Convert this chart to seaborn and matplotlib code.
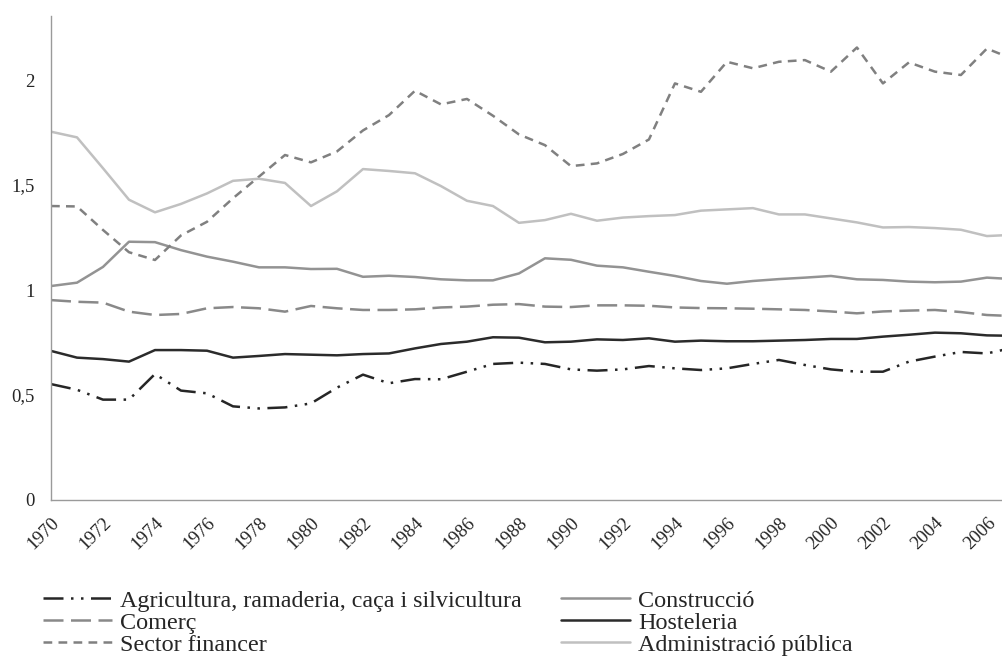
import matplotlib
matplotlib.use("Agg")
import matplotlib.pyplot as plt
import numpy as np
import pandas as pd
import seaborn as sns

# ---- data ----
years = list(range(1970, 2008))

agricultura = [0.552, 0.525, 0.478, 0.478, 0.600, 0.521, 0.508, 0.446, 0.436, 0.441,
               0.460, 0.535, 0.597, 0.556, 0.576, 0.575, 0.611, 0.648, 0.654, 0.648,
               0.622, 0.616, 0.622, 0.638, 0.627, 0.619, 0.627, 0.648, 0.667, 0.643,
               0.622, 0.611, 0.611, 0.659, 0.683, 0.705, 0.698, 0.725]
construccio = [1.019, 1.035, 1.110, 1.230, 1.228, 1.190, 1.159, 1.135, 1.108, 1.108,
               1.100, 1.101, 1.063, 1.068, 1.062, 1.051, 1.046, 1.046, 1.079, 1.151,
               1.144, 1.116, 1.108, 1.087, 1.067, 1.043, 1.030, 1.043, 1.052, 1.059,
               1.067, 1.051, 1.048, 1.040, 1.037, 1.040, 1.059, 1.052]
comerc = [0.952, 0.944, 0.940, 0.897, 0.881, 0.886, 0.913, 0.919, 0.913, 0.897,
          0.924, 0.913, 0.905, 0.905, 0.908, 0.917, 0.921, 0.930, 0.933, 0.921,
          0.919, 0.927, 0.927, 0.925, 0.917, 0.914, 0.913, 0.911, 0.908, 0.905,
          0.898, 0.889, 0.898, 0.902, 0.905, 0.895, 0.881, 0.876]
hosteleria = [0.710, 0.678, 0.671, 0.659, 0.714, 0.714, 0.711, 0.678, 0.686, 0.695,
              0.692, 0.689, 0.695, 0.698, 0.722, 0.743, 0.754, 0.775, 0.773, 0.751,
              0.754, 0.765, 0.762, 0.770, 0.754, 0.759, 0.756, 0.756, 0.759, 0.762,
              0.767, 0.767, 0.778, 0.787, 0.797, 0.794, 0.784, 0.782]
financer = [1.400, 1.398, 1.286, 1.180, 1.143, 1.260, 1.325, 1.437, 1.540, 1.643,
            1.608, 1.660, 1.760, 1.833, 1.949, 1.884, 1.910, 1.830, 1.741, 1.690,
            1.590, 1.603, 1.648, 1.717, 1.984, 1.944, 2.087, 2.056, 2.087, 2.095,
            2.040, 2.155, 1.984, 2.084, 2.040, 2.024, 2.150, 2.100]
administracio = [1.754, 1.727, 1.580, 1.430, 1.370, 1.410, 1.460, 1.520, 1.530, 1.510,
                 1.400, 1.470, 1.576, 1.567, 1.556, 1.495, 1.425, 1.400, 1.320, 1.333,
                 1.363, 1.330, 1.345, 1.352, 1.357, 1.378, 1.384, 1.390, 1.360, 1.360,
                 1.341, 1.322, 1.298, 1.300, 1.295, 1.287, 1.257, 1.263]

sectors = ["Agricultura, ramaderia, caça i silvicultura", "Construcció", "Comerç",
           "Hosteleria", "Sector financer", "Administració pública"]
series = [agricultura, construccio, comerc, hosteleria, financer, administracio]

ytick_vals = [0, 0.5, 1, 1.5, 2]
ytick_labels = ["0", "0,5", "1", "1,5", "2"]
xtick_years = list(range(1970, 2007, 2))

# long format for seaborn
df = pd.concat([pd.DataFrame({"any": years, "valor": s, "sector": name})
                for name, s in zip(sectors, series)], ignore_index=True)

colors = {sectors[0]: "#262626", sectors[1]: "#939393", sectors[2]: "#898989",
          sectors[3]: "#2b2b2b", sectors[4]: "#808080", sectors[5]: "#c0c0c0"}
dashes = {sectors[0]: (8, 3, 1, 3, 1, 3), sectors[1]: "", sectors[2]: (8, 3),
          sectors[3]: "", sectors[4]: (3.5, 2.5), sectors[5]: ""}

sns.set_style("white")
plt.rcParams["font.family"] = ["Liberation Serif", "DejaVu Serif"]

fig = plt.figure(figsize=(10.02, 6.58), dpi=100)
ax = fig.add_axes([51 / 1002, 1 - 500 / 658, (1002 - 51) / 1002, (500 - 16) / 658])

sns.lineplot(data=df, x="any", y="valor", hue="sector", style="sector",
             palette=colors, dashes=dashes, hue_order=sectors, style_order=sectors,
             linewidth=1.8, ax=ax)

ax.set_xlim(1970, 2006.58)
ax.set_ylim(0, 2.305)
ax.set_xlabel("")
ax.set_ylabel("")

ax.set_yticks(ytick_vals)
ax.set_yticklabels(ytick_labels, fontsize=13.5)
ax.set_xticks(xtick_years)
ax.set_xticklabels([str(y) for y in xtick_years], fontsize=13.5, rotation=45,
                   ha="right", va="top", rotation_mode="anchor")
ax.tick_params(axis="y", length=0, pad=12)
ax.tick_params(axis="x", length=0, pad=10)

for side in ["top", "right"]:
    ax.spines[side].set_visible(False)
for side in ["left", "bottom"]:
    ax.spines[side].set_color("#9a9a9a")
    ax.spines[side].set_linewidth(1.0)

# legend below, 2 columns (column-major order)
handles, labels = ax.get_legend_handles_labels()
ax.get_legend().remove()
lookup = dict(zip(labels, handles))
order = [sectors[0], sectors[2], sectors[4], sectors[1], sectors[3], sectors[5]]
fig.legend([lookup[k] for k in order], order, ncol=2, loc="upper left",
           bbox_to_anchor=(43 / 1002, 1 - 590 / 658), frameon=False,
           fontsize=17.4, handlelength=2.85, handletextpad=0.35,
           columnspacing=1.6, labelspacing=0.0, borderpad=0, borderaxespad=0)

fig.savefig("out.png", dpi=100)
